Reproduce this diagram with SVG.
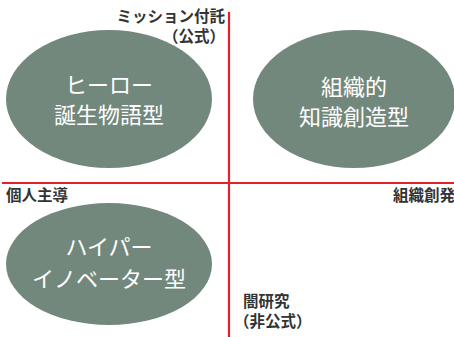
<svg xmlns="http://www.w3.org/2000/svg" width="454" height="337" viewBox="0 0 454 337">
<style>
.node{fill:#73887c}
.nt{font-family:"Noto Sans CJK JP","Noto Sans",sans-serif;font-size:22px;fill:#ffffff;text-anchor:middle}
.lb{font-family:"Noto Sans CJK JP","Noto Sans",sans-serif;font-size:15.5px;font-weight:bold;fill:#333333}
.ax{stroke:#e3202c;stroke-width:2.2;fill:none}
</style>
<rect width="454" height="337" fill="#ffffff"/>
<g id="connectors">
<line class="ax" x1="229" y1="12" x2="229" y2="337"/>
<line class="ax" x1="2" y1="183" x2="454" y2="183"/>
</g>
<g id="hero">
<ellipse class="node" cx="109" cy="99" rx="103" ry="69"/>
<text class="nt" x="109" y="93">ヒーロー</text>
<text class="nt" x="109" y="123">誕生物語型</text>
</g>
<g id="soshiki">
<ellipse class="node" cx="354" cy="99" rx="101" ry="69"/>
<text class="nt" x="354" y="95">組織的</text>
<text class="nt" x="354" y="125">知識創造型</text>
</g>
<g id="hyper">
<ellipse class="node" cx="109" cy="264" rx="103" ry="61"/>
<text class="nt" x="109" y="255">ハイパー</text>
<text class="nt" x="109" y="287">イノベーター型</text>
</g>
<g id="labels">
<text class="lb" x="225" y="22" text-anchor="end">ミッション付託</text>
<text class="lb" x="225" y="42" text-anchor="end">（公式）</text>
<text class="lb" x="6" y="201">個人主導</text>
<text class="lb" x="393" y="201">組織創発</text>
<text class="lb" x="243" y="307">闇研究</text>
<text class="lb" x="234" y="327">（非公式）</text>
</g>
</svg>
